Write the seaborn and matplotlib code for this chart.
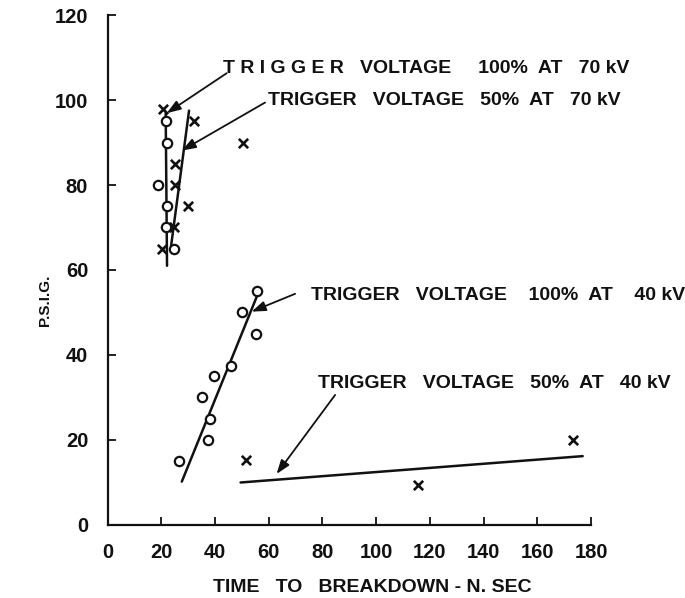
import matplotlib
matplotlib.use("Agg")
import matplotlib.pyplot as plt
import seaborn as sns
import pandas as pd

# ---- data -------------------------------------------------------------
# 70 kV, trigger 100 % (open circles)
t70_full = [21.8, 22.0, 18.6, 22.1, 21.8, 24.7]
p70_full = [95, 90, 80, 75, 70, 65]
# 70 kV, trigger 50 % (crosses)
t70_half = [20.7, 32.3, 50.5, 25.2, 25.2, 29.8, 24.7, 20.2]
p70_half = [98, 95, 90, 85, 80, 75, 70, 65]
# 40 kV, trigger 100 % (open circles)
t40_full = [55.7, 50.0, 55.2, 45.8, 39.6, 35.2, 38.0, 37.5, 26.7]
p40_full = [55, 50, 45, 37.5, 35, 30, 25, 20, 15]
# 40 kV, trigger 50 % (crosses)
t40_half = [51.4, 115.7, 173.4]
p40_half = [15.3, 9.4, 20.0]

# fitted trend lines (end points)
fit70_full_t = [21.6, 22.1]
fit70_full_p = [97.0, 61.0]
fit70_half_t = [30.3, 23.6]
fit70_half_p = [97.5, 65.6]
fit40_full_t = [27.6, 55.5]
fit40_full_p = [10.2, 53.7]
fit40_half_t = [49.5, 176.9]
fit40_half_p = [10.0, 16.2]

series_labels = [
    "T R I G G E R   VOLTAGE     100%  AT   70 kV",
    "TRIGGER   VOLTAGE   50%  AT   70 kV",
    "TRIGGER   VOLTAGE    100%  AT    40 kV",
    "TRIGGER   VOLTAGE   50%  AT   40 kV",
]
x_ticks = [0, 20, 40, 60, 80, 100, 120, 140, 160, 180]
y_ticks = [0, 20, 40, 60, 80, 100, 120]

# ---- styling ----------------------------------------------------------
sns.set_theme(style="ticks")
plt.rcParams["font.family"] = ["Liberation Sans", "DejaVu Sans"]
plt.rcParams["font.weight"] = "bold"

fig = plt.figure(figsize=(6.85, 5.98), dpi=100)
ax = fig.add_axes([0.1572, 0.1221, 0.7056, 0.8528])

ink = "#111111"

circles = pd.DataFrame({
    "t": t70_full + t40_full,
    "p": p70_full + p40_full,
})
crosses = pd.DataFrame({
    "t": t70_half + t40_half,
    "p": p70_half + p40_half,
})

sns.scatterplot(data=circles, x="t", y="p", ax=ax, marker="o", s=45,
                facecolor="white", edgecolor=ink, linewidth=1.6, zorder=3)
sns.scatterplot(data=crosses, x="t", y="p", ax=ax, marker="x", s=45,
                color=ink, linewidth=1.9, zorder=3)

for tt, pp in [(fit70_full_t, fit70_full_p), (fit70_half_t, fit70_half_p),
               (fit40_full_t, fit40_full_p), (fit40_half_t, fit40_half_p)]:
    sns.lineplot(x=tt, y=pp, ax=ax, color=ink, linewidth=1.8,
                 sort=False, estimator=None, zorder=2)

# labels with leader arrows
label_pos = [(42.8, 107.5), (59.6, 100.0), (75.6, 54.1), (78.2, 33.4)]
tail_pos = [(44.3, 106.3), (58.6, 99.4), (69.8, 54.4), (84.7, 30.6)]
head_pos = [(22.0, 96.9), (27.6, 88.1), (53.6, 50.2), (62.9, 12.0)]
for txt, lp, tp, hp in zip(series_labels, label_pos, tail_pos, head_pos):
    ax.text(lp[0], lp[1], txt, fontsize=14, color=ink, ha="left",
            va="center", fontweight="bold")
    ax.annotate("", xy=hp, xytext=tp,
                arrowprops=dict(arrowstyle="-|>,head_length=0.7,head_width=0.25",
                                color=ink, lw=1.3, shrinkA=0, shrinkB=0))

# axes
ax.set_xlim(0, 180)
ax.set_ylim(0, 120)
ax.set_xticks(x_ticks)
ax.set_yticks(y_ticks)
ax.set_xticklabels([str(v) for v in x_ticks])
ax.set_yticklabels([str(v) for v in y_ticks])
sns.despine(ax=ax)
for side in ("left", "bottom"):
    ax.spines[side].set_linewidth(1.6)
    ax.spines[side].set_color(ink)
ax.tick_params(axis="both", direction="in", length=6, width=1.3,
               color=ink, labelsize=14.5, labelcolor=ink)
ax.tick_params(axis="x", pad=13)
ax.tick_params(axis="y", pad=14)
for lab in ax.get_xticklabels() + ax.get_yticklabels():
    lab.set_fontweight("bold")

ax.set_xlabel("TIME   TO   BREAKDOWN - N. SEC", fontsize=14,
              fontweight="bold", color=ink)
ax.xaxis.set_label_coords(0.547, -0.105)
ax.set_ylabel("P.S.I.G.", fontsize=11, fontweight="bold", color=ink)
ax.yaxis.set_label_coords(-0.115, 0.44)

fig.savefig("out.png", dpi=100, facecolor="white")
